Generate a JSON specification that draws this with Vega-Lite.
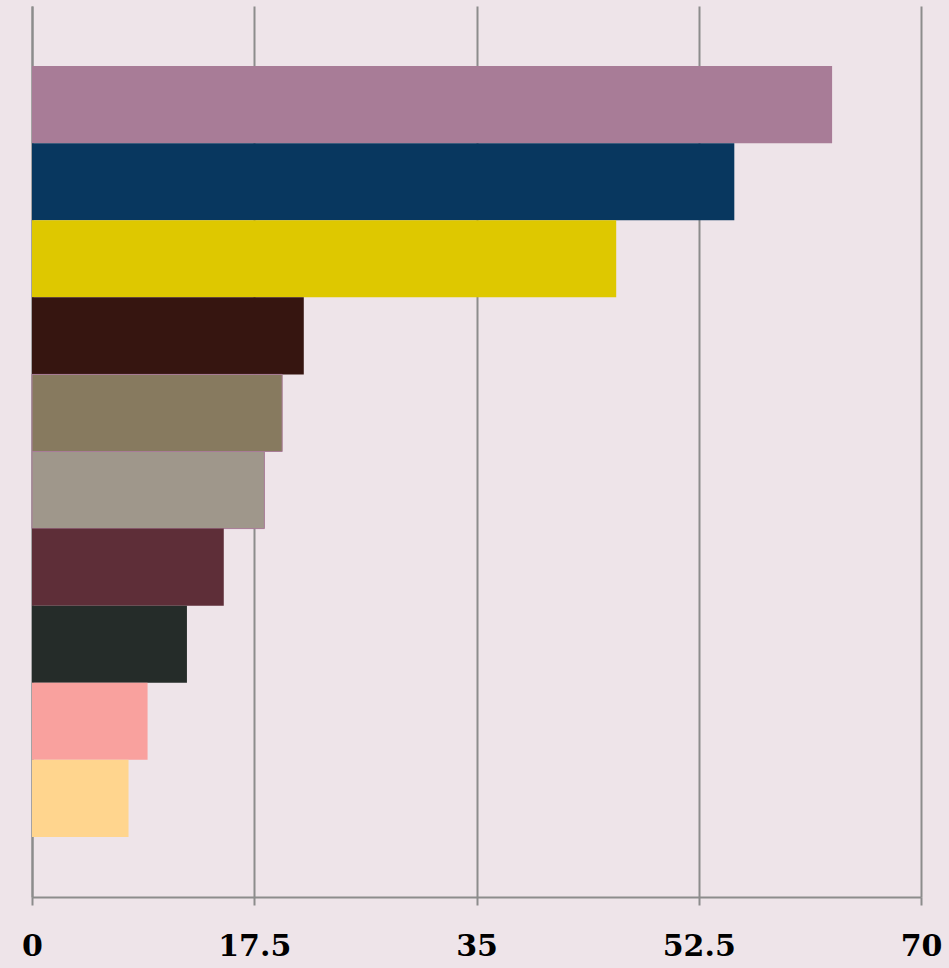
{
  "$schema": "https://vega.github.io/schema/vega-lite/v6.json",
  "width": 889,
  "height": 891,
  "autosize": {"type": "none"},
  "padding": {"left": 32, "top": 6, "right": 28, "bottom": 71},
  "background": "#EEE4E9",
  "config": {"view": {"stroke": null}},
  "data": {"values": [
    {"cat": "A", "value": 63.0},
    {"cat": "B", "value": 55.3},
    {"cat": "C", "value": 46.0},
    {"cat": "D", "value": 21.4},
    {"cat": "E", "value": 19.7},
    {"cat": "F", "value": 18.3},
    {"cat": "G", "value": 15.1},
    {"cat": "H", "value": 12.2},
    {"cat": "I", "value": 9.1},
    {"cat": "J", "value": 7.6}
  ]},
  "mark": {"type": "bar"},
  "encoding": {
    "y": {"field": "cat", "type": "nominal", "sort": null,
      "scale": {"paddingInner": 0, "paddingOuter": 0.78},
      "axis": {"title": null, "labels": false, "ticks": false, "grid": false, "domainColor": "#8C8C8C", "domainWidth": 2, "zindex": 0}},
    "x": {"field": "value", "type": "quantitative",
      "scale": {"domain": [0, 70], "nice": false},
      "axis": {"title": null, "values": [0, 17.5, 35, 52.5, 70], "format": ".1~f", "grid": true, "gridColor": "#8C8C8C", "gridWidth": 2,
        "domainColor": "#8C8C8C", "domainWidth": 2, "tickColor": "#8C8C8C", "tickWidth": 2, "tickSize": 8, "zindex": 0,
        "labelFont": "DejaVu Serif", "labelFontWeight": "bold", "labelFontSize": 30, "labelColor": "#000000",
        "labelPadding": 26, "labelFlush": false}},
    "color": {"field": "cat", "type": "nominal", "legend": null,
      "scale": {"domain": ["A","B","C","D","E","F","G","H","I","J"],
        "range": ["#A87C97","#08375F","#DEC800","#361510","#877A5F","#9F978B","#5E2E38","#252C29","#F9A19E","#FFD58E"]}},
    "stroke": {"field": "cat", "type": "nominal", "legend": null,
      "scale": {"domain": ["A","B","C","D","E","F","G","H","I","J"],
        "range": ["transparent","transparent","transparent","transparent","#A87C97","#A87C97","transparent","transparent","transparent","transparent"]}}
  }
}
